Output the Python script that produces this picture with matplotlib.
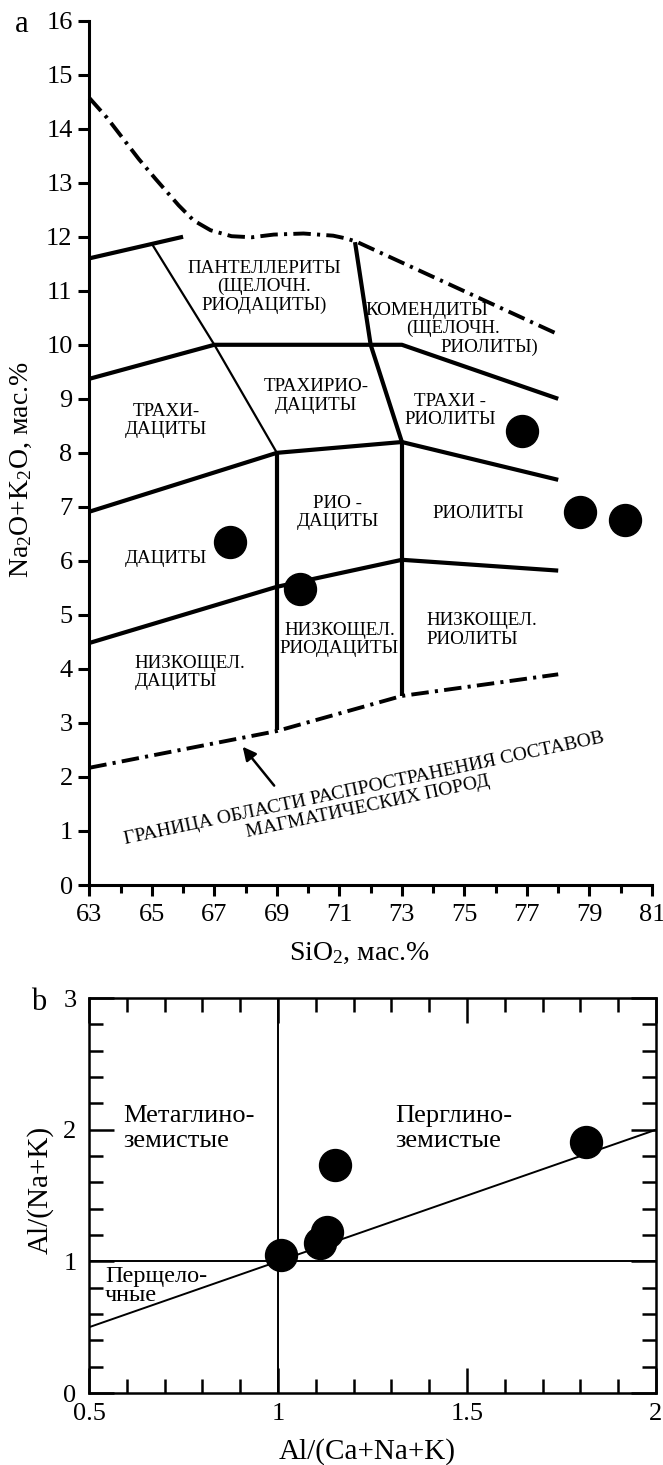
import matplotlib
matplotlib.use("Agg")
import matplotlib.pyplot as plt

plt.rcParams['font.family'] = ['Liberation Serif', 'DejaVu Serif']
plt.rcParams['mathtext.fontset'] = 'custom'
plt.rcParams['mathtext.rm'] = 'Liberation Serif'
plt.rcParams['mathtext.it'] = 'Liberation Serif'

# ---- Панель a: TAS (SiO2 vs Na2O+K2O) ----
# граничные линии полей
upper_dd_x = [63, 63.57, 64.58, 65.12, 65.86, 66.34, 66.88, 67.55, 68.2, 68.9, 69.85, 70.8, 71.2, 71.54, 77.9]
upper_dd_y = [14.57, 14.2, 13.44, 13.07, 12.58, 12.3, 12.12, 12.01, 11.99, 12.04, 12.06, 12.02, 11.97, 11.91, 10.22]
lower_dd_x = [63, 69, 73, 78]
lower_dd_y = [2.17, 2.85, 3.5, 3.9]

thick_lines = [
    ([63, 66], [11.6, 12.0]),
    ([63, 67, 73, 78], [9.37, 10.0, 10.0, 9.0]),
    ([63, 69, 73, 78], [6.91, 8.0, 8.2, 7.5]),
    ([63, 69, 73, 78], [4.48, 5.52, 6.02, 5.82]),
    ([69, 69], [8.0, 2.87]),
    ([73, 73], [8.2, 3.5]),
    ([71.5, 72.0, 73.0], [11.9, 10.0, 8.2]),
]
thin_x = [65, 67, 69]
thin_y = [11.87, 10.0, 8.0]

# образцы
sio2 = [76.85, 78.7, 80.15, 67.5, 69.75]
alk = [8.41, 6.9, 6.75, 6.35, 5.48]

# подписи полей: (x, y, текст, выравнивание)
fields = [
    (68.6, 11.07, "ПАНТЕЛЛЕРИТЫ\n(ЩЕЛОЧН.\nРИОДАЦИТЫ)", 'center'),
    (73.8, 10.64, "КОМЕНДИТЫ", 'center'),
    (74.65, 10.31, "(ЩЕЛОЧН.", 'center'),
    (75.8, 9.96, "РИОЛИТЫ)", 'center'),
    (70.25, 9.05, "ТРАХИРИО-\nДАЦИТЫ", 'center'),
    (65.45, 8.6, "ТРАХИ-\nДАЦИТЫ", 'center'),
    (74.55, 8.78, "ТРАХИ -\nРИОЛИТЫ", 'center'),
    (70.95, 6.9, "РИО -\nДАЦИТЫ", 'center'),
    (75.45, 6.87, "РИОЛИТЫ", 'center'),
    (65.45, 6.05, "ДАЦИТЫ", 'center'),
    (71.0, 4.54, "НИЗКОЩЕЛ.\nРИОДАЦИТЫ", 'center'),
    (73.8, 4.72, "НИЗКОЩЕЛ.\nРИОЛИТЫ", 'left'),
    (64.45, 3.94, "НИЗКОЩЕЛ.\nДАЦИТЫ", 'left'),
]

# ---- Панель b: A/CNK vs A/NK ----
acnk = [1.152, 1.814, 1.009, 1.13, 1.112]
ank = [1.73, 1.91, 1.045, 1.22, 1.14]
diag_x = [0.5, 2.0]
diag_y = [0.5, 2.0]

fig = plt.figure(figsize=(6.63, 14.65), dpi=100)
ax1 = fig.add_axes([0.1347, 0.3959, 0.8487, 0.590])
ax2 = fig.add_axes([0.1342, 0.0491, 0.8552, 0.2696])

dd = (0, (4.5, 1.6, 0.8, 1.6))
ax1.plot(upper_dd_x, upper_dd_y, color='black', lw=2.8, ls=dd, clip_on=False)
ax1.plot(lower_dd_x, lower_dd_y, color='black', lw=2.8, ls=dd, clip_on=False)
for xs, ys in thick_lines:
    ax1.plot(xs, ys, color='black', lw=3.0, solid_capstyle='butt', clip_on=False)
ax1.plot(thin_x, thin_y, color='black', lw=1.6)
ax1.plot(sio2, alk, 'o', color='black', ms=23, clip_on=False)

for x, y, s, ha in fields:
    ax1.text(x, y, s, ha=ha, va='center', multialignment=ha, fontsize=13.7, linespacing=1.1)

ax1.text(71.85, 1.62, "ГРАНИЦА ОБЛАСТИ РАСПРОСТРАНЕНИЯ СОСТАВОВ\nМАГМАТИЧЕСКИХ ПОРОД",
         ha='center', va='center', multialignment='center', rotation=12, fontsize=14,
         linespacing=1.15, rotation_mode='anchor')
ax1.annotate("", xy=(67.85, 2.6), xytext=(68.97, 1.8),
             arrowprops=dict(arrowstyle='-|>', color='black', lw=1.8, mutation_scale=20))

ax1.set_xlim(63, 81)
ax1.set_ylim(0, 16)
ax1.spines['top'].set_visible(False)
ax1.spines['right'].set_visible(False)
for s in ['left', 'bottom']:
    ax1.spines[s].set_linewidth(2.2)
ax1.set_xticks(range(63, 82, 2))
ax1.set_xticks(range(64, 81, 2), minor=True)
ax1.set_yticks(range(0, 17))
ax1.tick_params(which='both', direction='out', width=2.2, labelsize=19)
ax1.tick_params(which='major', length=8)
ax1.tick_params(which='minor', length=6)
ax1.tick_params(axis='x', pad=6)
ax1.tick_params(axis='y', pad=4)
ax1.set_xlabel("SiO$_2$, мас.%", fontsize=20)
ax1.xaxis.set_label_coords(0.481, -0.0787)
ax1.xaxis.label.set_va('center')
ax1.set_ylabel("Na$_2$O+K$_2$O, мас.%", fontsize=20)
ax1.yaxis.set_label_coords(-0.121, 0.48)
ax1.yaxis.label.set_va('center')

# панель b
ax2.axvline(1.0, color='black', lw=1.4)
ax2.axhline(1.0, color='black', lw=1.4)
ax2.plot(diag_x, diag_y, color='black', lw=1.4)
ax2.plot(acnk, ank, 'o', color='black', ms=23, clip_on=False)
ax2.text(0.59, 2.01, "Метаглино-\nземистые", fontsize=19, va='center', linespacing=1.15)
ax2.text(1.311, 2.01, "Перглино-\nземистые", fontsize=19, va='center', linespacing=1.15)
ax2.text(0.542, 0.815, "Перщело-\nчные", fontsize=17.5, va='center', linespacing=0.85)

ax2.set_xlim(0.5, 2.0)
ax2.set_ylim(0, 3)
for s in ax2.spines.values():
    s.set_linewidth(1.8)
ax2.set_xticks([0.5, 1.0, 1.5, 2.0])
ax2.set_xticklabels(["0.5", "1", "1.5", "2"])
ax2.set_xticks([0.5 + 0.1 * i for i in range(16)], minor=True)
ax2.set_yticks([0, 1, 2, 3])
ax2.set_yticks([0.2 * i for i in range(16)], minor=True)
ax2.tick_params(which='both', direction='in', top=True, right=True, width=1.8, labelsize=19)
ax2.tick_params(which='major', length=18)
ax2.tick_params(which='minor', length=10)
ax2.tick_params(axis='x', pad=7)
ax2.tick_params(axis='y', pad=9)
ax2.set_xlabel("Al/(Ca+Na+K)", fontsize=21)
ax2.xaxis.set_label_coords(0.49, -0.149)
ax2.xaxis.label.set_va('center')
ax2.set_ylabel("Al/(Na+K)", fontsize=21)
ax2.yaxis.set_label_coords(-0.086, 0.514)
ax2.yaxis.label.set_va('center')

fig.text(22 / 663, 1 - 24 / 1465, "a", fontsize=22, ha='center', va='center')
fig.text(39 / 663, 1 - 1003 / 1465, "b", fontsize=22, ha='center', va='center')

fig.savefig("out.png", dpi=100)
